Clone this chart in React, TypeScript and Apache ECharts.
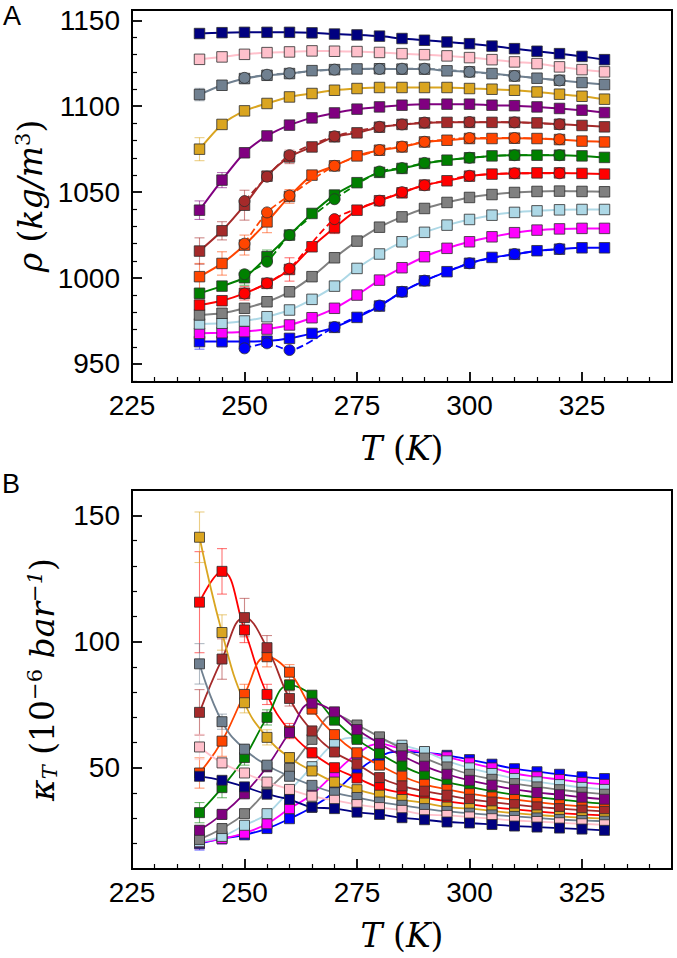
import React, { useEffect, useRef } from "react";
import * as echarts from "echarts";

// ---------- data ----------
const temps = [240, 245, 250, 255, 260, 265, 270, 275, 280, 285, 290, 295, 300, 305, 310, 315, 320, 325, 330];
const errTemps = [240, 245, 250, 255, 260, 265, 270];
const circTemps = [250, 255, 260, 270, 280, 285, 290, 300, 310, 320];

const xMajor = [225, 250, 275, 300, 325];
const xMinor = [230, 235, 240, 245, 255, 260, 265, 270, 280, 285, 290, 295, 305, 310, 315, 320, 330, 335, 340];
const yMajorA = [950, 1000, 1050, 1100, 1150];
const yMinorA = [940, 960, 970, 980, 990, 1010, 1020, 1030, 1040, 1060, 1070, 1080, 1090, 1110, 1120, 1130, 1140];
const yMajorB = [50, 100, 150];
const yMinorB = [20, 30, 40, 60, 70, 80, 90, 110, 120, 130, 140];

const colorNames = ["blue", "magenta", "lightblue", "gray", "red", "green", "orangered", "brown", "purple", "goldenrod", "slategray", "pink", "navy"];
const colorHex = ["#0000ff", "#ff00ff", "#add8e6", "#808080", "#ff0000", "#008000", "#ff4500", "#a52a2a", "#800080", "#daa520", "#708090", "#ffc0cb", "#000080"];

// Panel A: density (kg/m^3)
const rhoBlue = [963, 963, 963, 963.3, 964.9, 967.8, 971.3, 977.1, 983.7, 992, 998.4, 1003.7, 1008.6, 1012, 1013.8, 1015.9, 1016.8, 1017.6, 1017.6];
const rhoMagenta = [967.8, 968.2, 968.8, 970.3, 972.7, 976.9, 982.4, 990.1, 998.8, 1006, 1012.4, 1017.3, 1021.1, 1024, 1026.4, 1027.9, 1028.6, 1028.9, 1028.9];
const rhoLightblue = [973.3, 973.7, 975, 977.5, 981.4, 987.6, 995.3, 1005.6, 1014, 1021.1, 1026.6, 1030.8, 1034.1, 1036.6, 1038.2, 1039.1, 1039.7, 1039.9, 1039.9];
const rhoGray = [978.5, 979.5, 982.4, 986.2, 992, 1000.8, 1011.8, 1021.5, 1029.6, 1035.6, 1040.5, 1044, 1046.9, 1048.6, 1049.8, 1050.4, 1050.6, 1050.4, 1050.2];
const rhoRed = [984.3, 986.8, 991.1, 996.9, 1005, 1018.2, 1029.3, 1039.5, 1045, 1049.6, 1054.1, 1056.6, 1059.3, 1060.5, 1060.9, 1061.2, 1061.2, 1060.9, 1060.5];
const rhoGreen = [991.1, 995.3, 1000.2, 1012.4, 1025, 1037.6, 1048.3, 1055.5, 1061.5, 1063.8, 1066.7, 1068.6, 1070, 1071.1, 1071.5, 1071.5, 1071.5, 1071.1, 1070.2];
const rhoOrangered = [1000.8, 1008.5, 1019.2, 1032.7, 1047.5, 1059.9, 1065.3, 1071.1, 1074.4, 1076.3, 1079.2, 1080.2, 1081.2, 1081.2, 1081.4, 1081.2, 1080.6, 1079.7, 1079.2];
const rhoBrown = [1015.7, 1027.5, 1042.4, 1059.3, 1070.5, 1076.3, 1082.2, 1084.5, 1087.8, 1089.4, 1090.3, 1090.6, 1090.6, 1090.6, 1090.6, 1090.3, 1089.5, 1088.8, 1088];
const rhoPurple = [1039.5, 1057, 1072.9, 1082.7, 1089, 1093.2, 1096.1, 1098.3, 1099.6, 1100.6, 1101.2, 1101.2, 1101.2, 1100.6, 1100.3, 1099.6, 1098.7, 1097.7, 1096.3];
const rhoGoldenrod = [1075, 1089.4, 1097.3, 1101.6, 1105.4, 1107.4, 1109.3, 1110.3, 1110.9, 1110.9, 1110.9, 1110.9, 1110.3, 1109.9, 1109.3, 1108.3, 1107, 1105.8, 1104.1];
const rhoSlategray = [1106.8, 1112.2, 1116.1, 1118, 1119, 1120.7, 1121.3, 1121.7, 1121.8, 1121.6, 1121.6, 1120.6, 1120, 1119, 1117.6, 1116.3, 1115.1, 1113.8, 1112.6];
const rhoPink = [1127.3, 1128.7, 1130.2, 1131.2, 1131.6, 1132.2, 1132, 1131.8, 1131.3, 1130.6, 1130, 1129.3, 1128.3, 1127.1, 1125.8, 1124.8, 1122.9, 1121.3, 1120];
const rhoNavy = [1142.3, 1142.8, 1143, 1143, 1143, 1142.7, 1142, 1141.5, 1140.8, 1139.4, 1138.4, 1137.4, 1136.4, 1135, 1133.5, 1132, 1130.6, 1129, 1127.1];

// Panel A: second data set (circles, dashed)
const circBlue = [959.1, 962, 958.1, 971.5, 984, 992, 998.5, 1008.6, 1014, 1017];
const circRed = [991, 997, 1005.5, 1034.3, 1045, 1050, 1054, 1059.5, 1061, 1061];
const circGreen = [1002.2, 1009.5, 1025, 1045.9, 1062, 1064, 1067, 1070, 1071.5, 1071.5];
const circOrangered = [1020, 1038.2, 1048, 1065.3, 1074.5, 1076.5, 1079.3, 1081.5, 1081.5, 1080.8];
const circBrown = [1044.8, 1059, 1071.5, 1082.5, 1088, 1089.4, 1090.5, 1090.8, 1090.6, 1089.5];
const circSlategray = [1116.5, 1118.3, 1119.2, 1121.3, 1121.7, 1121.8, 1121.8, 1120, 1117.6, 1115];

// Panel A error bars (240..270 K)
const eRhoBlue = [4.4, 3, 2, 1.5, 1.5, 1, 1];
const eRhoMagenta = [1.5, 1, 1, 1, 1, 0.5, 0.5];
const eRhoLightblue = [1.5, 1, 1, 1, 0.5, 0.5, 0.5];
const eRhoGray = [1.5, 1, 1, 1, 1, 0.5, 0.5];
const eRhoRed = [2.4, 1.5, 3.9, 2, 6.8, 1, 3.4];
const eRhoGreen = [2.9, 2, 4.4, 3.9, 2, 1, 1];
const eRhoOrangered = [7.7, 6.8, 5.8, 6.3, 4, 1.5, 1];
const eRhoBrown = [7.7, 5.3, 8.7, 2, 3.9, 1.5, 1];
const eRhoPurple = [5.4, 4.4, 2.5, 1, 0.5, 0.5, 0.5];
const eRhoGoldenrod = [6.7, 2.5, 1, 0.5, 0.5, 0.5, 0.5];
const eRhoSlategray = [3.6, 1.5, 2.5, 1, 1, 0.5, 0.5];
const eRhoPink = [1, 0.5, 0.5, 0.5, 0.5, 0.5, 0.5];
const eRhoNavy = [1, 0.5, 0.5, 0.5, 0.5, 0.5, 0.5];

// Panel B: compressibility (1e-6 bar^-1)
const kapBlue = [20, 22, 23.5, 26, 29.9, 34.4, 40.5, 48.5, 54.5, 56.5, 56, 55, 53.3, 51.5, 49.7, 48.5, 47.5, 46.5, 45.8];
const kapMagenta = [20.5, 22, 24.2, 27.9, 33.9, 39.5, 47.8, 55.5, 59.5, 57.5, 56.2, 54.4, 52, 50, 47.8, 46.5, 45.4, 44.3, 43.5];
const kapLightblue = [20.8, 22.9, 27.3, 31.9, 41, 50.5, 59.7, 62, 61, 59, 56.5, 52.8, 50, 47.8, 45.8, 44.5, 43.4, 42.3, 41.5];
const kapGray = [21.7, 26, 31.9, 41, 49.8, 61.3, 71, 67, 62.3, 57.7, 53.9, 50.4, 47.5, 45.5, 43.8, 42.5, 41.4, 40.4, 39.6];
const kapRed = [115.6, 127.8, 104.6, 79.1, 64.6, 56, 50.1, 46, 42.2, 40.1, 38.3, 36.8, 35.6, 34.5, 33.6, 32.8, 32.1, 31.6, 31.2];
const kapGreen = [32.3, 42.2, 54.1, 70, 82.8, 78.8, 68.9, 61.3, 55.7, 50.8, 47.1, 44.4, 42.5, 40.8, 39.4, 38.4, 37.5, 36.6, 35.9];
const kapOrangered = [48, 60.6, 79.1, 94, 87.9, 73.3, 63.2, 56, 51.1, 46.7, 43.5, 41.5, 39.8, 38.5, 37.5, 36.5, 35.5, 34.8, 34.3];
const kapBrown = [72, 93.1, 109.5, 97.6, 77.5, 64.6, 56.3, 51.5, 46.2, 42.9, 40.8, 39.2, 37.6, 36.5, 35.5, 34.6, 33.9, 33.3, 32.8];
const kapPurple = [25.3, 31.6, 39.8, 50.5, 64, 75.6, 72.2, 65.2, 59.7, 54.8, 50.7, 47.5, 45.1, 43.2, 41.5, 40.3, 39.4, 38.4, 37.6];
const kapGoldenrod = [141.3, 103.6, 75.8, 62.1, 54.1, 48.8, 44.4, 41.4, 39.2, 37.5, 36.1, 34.5, 33.9, 33, 32.1, 31.4, 30.8, 30.3, 29.9];
const kapSlategray = [91.2, 68.3, 57.4, 51.1, 46.7, 43.1, 40.2, 38.3, 36.5, 35.2, 33.9, 32.8, 32.1, 31.4, 30.8, 30.2, 29.6, 29.2, 28.9];
const kapPink = [58.3, 52, 48, 44.4, 41.5, 38.8, 37.2, 35.5, 34.3, 33.2, 31.6, 31.2, 30.6, 29.9, 29.2, 28.8, 28.3, 27.9, 27.5];
const kapNavy = [46.7, 45.1, 42.5, 39.6, 37.5, 34.5, 33.9, 32.5, 31.6, 30.3, 29.5, 28.6, 28.2, 27.6, 27, 26.6, 26.2, 25.8, 25.3];

// Panel B error bars (240..270 K)
const eKapBlue = [2.5, 2, 1.5, 1.5, 1, 1, 1];
const eKapMagenta = [2.5, 2, 1.5, 1.5, 1, 1, 1];
const eKapLightblue = [2.5, 2, 1.5, 1.5, 1, 1, 1];
const eKapGray = [2.5, 2, 1.5, 1.5, 1.5, 1, 1];
const eKapRed = [20, 9, 5, 4, 3, 2, 1.5];
const eKapGreen = [4, 4, 3, 3, 2, 1.5, 1];
const eKapOrangered = [6, 6, 4, 4, 3, 2, 1.5];
const eKapBrown = [9, 8, 7.6, 4.8, 3, 2, 1.5];
const eKapPurple = [2, 2, 2, 2, 2, 2, 1];
const eKapGoldenrod = [10, 7, 4, 3, 2, 1.5, 1];
const eKapSlategray = [8, 3, 2, 1.5, 1, 1, 0.5];
const eKapPink = [5, 2, 1.5, 1, 1, 0.5, 0.5];
const eKapNavy = [1.5, 1, 1, 1, 1, 0.5, 0.5];

const rhoAll = [rhoBlue, rhoMagenta, rhoLightblue, rhoGray, rhoRed, rhoGreen, rhoOrangered, rhoBrown, rhoPurple, rhoGoldenrod, rhoSlategray, rhoPink, rhoNavy];
const kapAll = [kapBlue, kapMagenta, kapLightblue, kapGray, kapRed, kapGreen, kapOrangered, kapBrown, kapPurple, kapGoldenrod, kapSlategray, kapPink, kapNavy];
const eRhoAll = [eRhoBlue, eRhoMagenta, eRhoLightblue, eRhoGray, eRhoRed, eRhoGreen, eRhoOrangered, eRhoBrown, eRhoPurple, eRhoGoldenrod, eRhoSlategray, eRhoPink, eRhoNavy];
const eKapAll = [eKapBlue, eKapMagenta, eKapLightblue, eKapGray, eKapRed, eKapGreen, eKapOrangered, eKapBrown, eKapPurple, eKapGoldenrod, eKapSlategray, eKapPink, eKapNavy];
const circAll: [number, number[]][] = [
  [0, circBlue], [4, circRed], [5, circGreen], [6, circOrangered], [7, circBrown], [10, circSlategray],
];

// ---------- helpers ----------
function rgba(hex: string, a: number) {
  const n = parseInt(hex.slice(1), 16);
  return `rgba(${(n >> 16) & 255},${(n >> 8) & 255},${n & 255},${a})`;
}

const SERIF = "DejaVu Serif";
const SANS = "Liberation Sans";
const NS = 33;
const SS = 21;
const nameRich = {
  i: { fontFamily: SERIF, fontStyle: "italic", fontSize: NS, color: "#000" },
  n: { fontFamily: SERIF, fontSize: NS, color: "#000" },
  sup: { fontFamily: SERIF, fontSize: SS, color: "#000", verticalAlign: "top", padding: [0, 0, 15, 0] },
  supi: { fontFamily: SERIF, fontStyle: "italic", fontSize: SS, color: "#000", verticalAlign: "top", padding: [0, 0, 15, 0] },
  sub: { fontFamily: SERIF, fontStyle: "italic", fontSize: SS, color: "#000", verticalAlign: "bottom", padding: [11, 0, 0, 0] },
};

export default function App() {
  const ref = useRef<HTMLDivElement>(null);

  useEffect(() => {
    if (!ref.current) return;
    const chart = echarts.init(ref.current, undefined, { renderer: "svg" });

    const axisLine = { show: true, onZero: false, lineStyle: { color: "#000", width: 2 } };
    const labelStyle = { color: "#000", fontSize: 28, fontFamily: SANS, formatter: (v: number) => String(v) };

    const makeX = (gi: number, major: boolean) => ({
      type: "value",
      gridIndex: gi,
      min: 225,
      max: 345,
      position: "bottom",
      name: major ? "{i|T }{n|(}{i|K}{n|)}" : "",
      nameLocation: "middle",
      nameGap: 50,
      nameTextStyle: { rich: nameRich },
      axisLine: major ? axisLine : { show: false, onZero: false },
      axisTick: {
        show: true,
        inside: true,
        length: major ? 10 : 5,
        customValues: major ? xMajor : xMinor,
        lineStyle: { color: "#000", width: major ? 1.8 : 1.2 },
      },
      axisLabel: major ? { show: true, customValues: xMajor, margin: 9, ...labelStyle } : { show: false },
      splitLine: { show: false },
    });

    const makeY = (gi: number, major: boolean, min: number, max: number, majors: number[], minors: number[], name: string, gap: number) => ({
      type: "value",
      gridIndex: gi,
      min,
      max,
      position: "left",
      name: major ? name : "",
      nameLocation: "middle",
      nameRotate: 90,
      nameGap: gap,
      nameTextStyle: { rich: nameRich },
      axisLine: major ? axisLine : { show: false, onZero: false },
      axisTick: {
        show: true,
        inside: true,
        length: major ? 10 : 5,
        customValues: major ? majors : minors,
        lineStyle: { color: "#000", width: major ? 1.8 : 1.2 },
      },
      axisLabel: major ? { show: true, customValues: majors, margin: 12, ...labelStyle } : { show: false },
      splitLine: { show: false },
    });

    const series: any[] = [];

    const errorSeries = (xi: number, yi: number, values: number[][], errs: number[][]) => {
      const data: number[][] = [];
      values.forEach((vals, ci) => {
        errTemps.forEach((t, k) => {
          const idx = temps.indexOf(t);
          data.push([t, vals[idx], errs[ci][k], ci]);
        });
      });
      return {
        type: "custom",
        xAxisIndex: xi,
        yAxisIndex: yi,
        z: 2,
        silent: true,
        encode: { x: 0, y: 1 },
        data,
        renderItem: (_p: any, api: any) => {
          const x = api.value(0);
          const y = api.value(1);
          const e = api.value(2);
          const ci = api.value(3);
          const top = api.coord([x, y + e]);
          const bot = api.coord([x, y - e]);
          const stroke = rgba(colorHex[ci], 0.55);
          const hw = 5;
          const st = { stroke, lineWidth: 1.1 };
          return {
            type: "group",
            children: [
              { type: "line", shape: { x1: top[0], y1: top[1], x2: bot[0], y2: bot[1] }, style: st },
              { type: "line", shape: { x1: top[0] - hw, y1: top[1], x2: top[0] + hw, y2: top[1] }, style: st },
              { type: "line", shape: { x1: bot[0] - hw, y1: bot[1], x2: bot[0] + hw, y2: bot[1] }, style: st },
            ],
          };
        },
      };
    };

    series.push(errorSeries(0, 0, rhoAll, eRhoAll));
    series.push(errorSeries(2, 2, kapAll, eKapAll));

    const markerItem = (c: string) => ({ color: c, borderColor: "rgba(45,45,45,0.8)", borderWidth: 1 });

    rhoAll.forEach((vals, ci) => {
      series.push({
        type: "line",
        name: "rho-" + colorNames[ci],
        xAxisIndex: 0,
        yAxisIndex: 0,
        z: 3,
        smooth: 0.25,
        symbol: "rect",
        symbolSize: 10.5,
        data: temps.map((t, i) => [t, vals[i]]),
        lineStyle: { color: colorHex[ci], width: 2 },
        itemStyle: markerItem(colorHex[ci]),
      });
    });
    circAll.forEach(([ci, vals]) => {
      series.push({
        type: "line",
        name: "rho2-" + colorNames[ci],
        xAxisIndex: 0,
        yAxisIndex: 0,
        z: 4,
        smooth: 0.25,
        symbol: "circle",
        symbolSize: 11,
        data: circTemps.map((t, i) => [t, vals[i]]),
        lineStyle: { color: colorHex[ci], width: 1.8, type: "dashed" },
        itemStyle: markerItem(colorHex[ci]),
      });
    });
    kapAll.forEach((vals, ci) => {
      series.push({
        type: "line",
        name: "kappa-" + colorNames[ci],
        xAxisIndex: 2,
        yAxisIndex: 2,
        z: 3,
        smooth: 0.45,
        symbol: "rect",
        symbolSize: 10,
        data: temps.map((t, i) => [t, vals[i]]),
        lineStyle: { color: colorHex[ci], width: 1.8 },
        itemStyle: markerItem(colorHex[ci]),
      });
    });

    const option: any = {
      animation: false,
      backgroundColor: "#fff",
      grid: [
        { left: 132, top: 10, width: 540, height: 372, show: true, borderColor: "#000", borderWidth: 2, backgroundColor: "transparent" },
        { left: 132, top: 490, width: 540, height: 379, show: true, borderColor: "#000", borderWidth: 2, backgroundColor: "transparent" },
      ],
      xAxis: [makeX(0, true), makeX(0, false), makeX(1, true), makeX(1, false)],
      yAxis: [
        makeY(0, true, 939.5, 1156, yMajorA, yMinorA, "{i|ρ }{n|(}{i|kg/m}{sup|3}{n|)}", 76),
        makeY(0, false, 939.5, 1156, yMajorA, yMinorA, "", 0),
        makeY(1, true, 10, 160, yMajorB, yMinorB, "{i|κ}{sub|T}{n| (10}{sup|−6}{n| }{i|bar}{supi|−1}{n|)}", 72),
        makeY(1, false, 10, 160, yMajorB, yMinorB, "", 0),
      ],
      graphic: [
        { type: "text", left: 3, top: 2, style: { text: "A", font: `27px '${SANS}'`, fill: "#000" } },
        { type: "text", left: 2, top: 470, style: { text: "B", font: `27px '${SANS}'`, fill: "#000" } },
      ],
      series,
    };

    chart.setOption(option);
    return () => chart.dispose();
  }, []);

  return (
    <div
      ref={ref}
      style={{ position: "absolute", left: 0, top: 0, width: 677, height: 958, background: "#fff" }}
    />
  );
}
